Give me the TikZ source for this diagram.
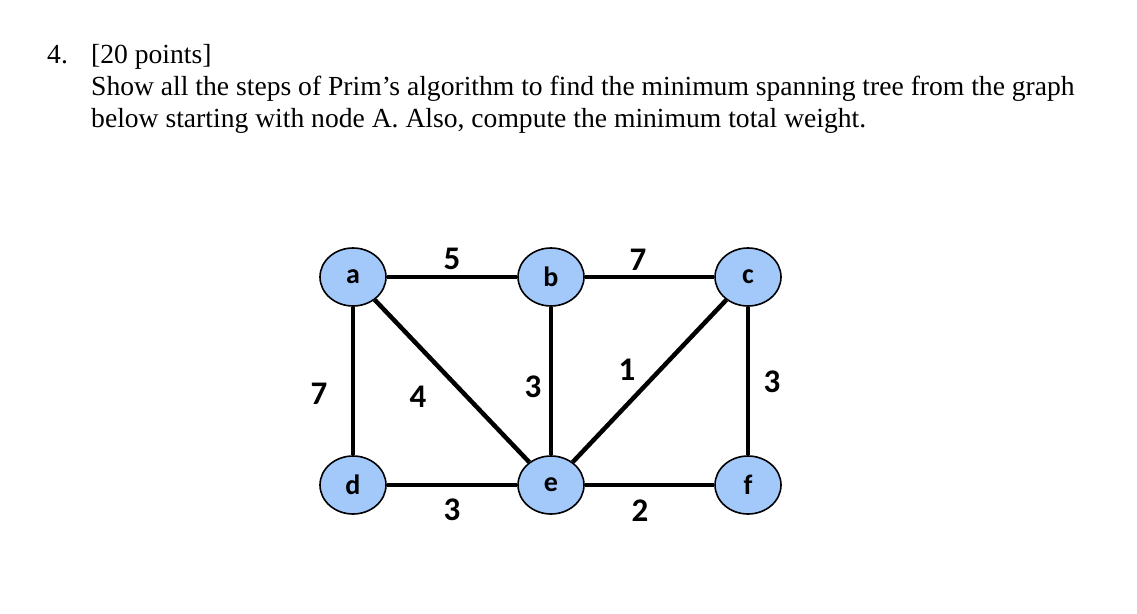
\documentclass[tikz,border=0pt]{standalone}
\usepackage{fontspec}
\usepackage{tikz}
\setmainfont{Liberation Serif}
\newfontfamily\graphfont{Carlito}
\definecolor{nodeblue}{RGB}{163, 200, 250}
\usetikzlibrary{shapes.geometric, positioning}

\begin{document}
\begin{tikzpicture}[
    x=1pt, y=-1pt,
    vertex/.style={ellipse, draw=black, line width=1.6pt, fill=nodeblue,
                   minimum width=66pt, minimum height=58pt, inner sep=0pt,
                   font=\graphfont\fontsize{28}{28}\selectfont\bfseries},
    edge/.style={line width=4.5pt},
    weight/.style={font=\graphfont\fontsize{33}{33}\selectfont\bfseries, inner sep=0pt},
    task/.style={anchor=base west, inner sep=0pt, font=\fontsize{27.6}{30}\selectfont}
]
    \useasboundingbox (0,0) rectangle (1137,613);

    % question text
    \node[task] (num) at (47,63) {4.};
    \node[task] (pts) at (91,63) {[20 points]};
    \node[task] (q1) at (91,95) {Show all the steps of Prim’s algorithm to find the minimum spanning tree from the graph};
    \node[task] (q2) at (91,127) {below starting with node A. Also, compute the minimum total weight.};

    % vertices
    \node[vertex] (a) at (353,277) {a};
    \node[vertex] (b) at (551,277) {b};
    \node[vertex] (c) at (748,277) {c};
    \node[vertex] (d) at (353,485) {d};
    \node[vertex] (e) at (551,485) {e};
    \node[vertex] (f) at (748,485) {f};

    % edges
    \draw[edge] (a) -- (b);
    \draw[edge] (b) -- (c);
    \draw[edge] (a) -- (d);
    \draw[edge] (a) -- (e);
    \draw[edge] (b) -- (e);
    \draw[edge] (c) -- (e);
    \draw[edge] (c) -- (f);
    \draw[edge] (d) -- (e);
    \draw[edge] (e) -- (f);

    % weights
    \node[weight] (w-ab) at (452,259) {5};
    \node[weight] (w-bc) at (638,260) {7};
    \node[weight] (w-ad) at (319,394) {7};
    \node[weight] (w-ae) at (418,397) {4};
    \node[weight] (w-be) at (533,387) {3};
    \node[weight] (w-ce) at (627,370) {1};
    \node[weight] (w-cf) at (772,382) {3};
    \node[weight] (w-de) at (452,510) {3};
    \node[weight] (w-ef) at (640,511) {2};
\end{tikzpicture}
\end{document}
